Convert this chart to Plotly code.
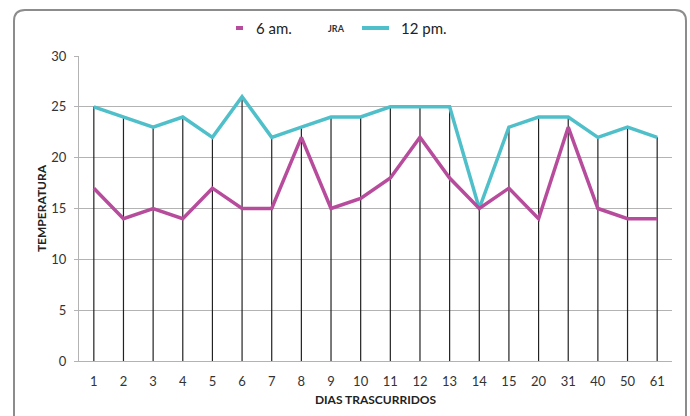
import plotly.graph_objects as go

dias = ["1", "2", "3", "4", "5", "6", "7", "8", "9", "10", "11", "12", "13",
        "14", "15", "20", "31", "40", "50", "61"]
am6 = [17, 14, 15, 14, 17, 15, 15, 22, 15, 16, 18, 22, 18, 15, 17, 14, 23, 15, 14, 14]
pm12 = [25, 24, 23, 24, 22, 26, 22, 23, 24, 24, 25, 25, 25, 15, 23, 24, 24, 22, 23, 22]
y_ticks = [0, 5, 10, 15, 20, 25, 30]

W, H = 690, 416
L, R, T, B = 79, 18, 56, 55
pw, ph = W - L - R, H - T - B

def px(x):
    return (x - L) / pw

def py(y):
    return (H - B - y) / ph

FONT = "Lato"

# drop lines from the 12 pm values down to zero
dx, dy = [], []
for d, v in zip(dias, pm12):
    dx += [d, d, None]
    dy += [0, v, None]

fig = go.Figure()
fig.add_trace(go.Scatter(x=dx, y=dy, mode="lines",
                         line=dict(color="#222222", width=1.2),
                         hoverinfo="skip", showlegend=False))
fig.add_trace(go.Scatter(x=dias, y=pm12, mode="lines", name="12 pm.",
                         line=dict(color="#4FBFC9", width=3.5), showlegend=False))
fig.add_trace(go.Scatter(x=dias, y=am6, mode="lines", name="6 am.",
                         line=dict(color="#B84C9C", width=3.5), showlegend=False))

# outer rounded frame
x0, x1, y0, y1 = 14, 686, 10, 425
r = 11
path = (f"M {px(x0)},{py(y1)} L {px(x0)},{py(y0 + r)} "
        f"Q {px(x0)},{py(y0)} {px(x0 + r)},{py(y0)} "
        f"L {px(x1 - r)},{py(y0)} Q {px(x1)},{py(y0)} {px(x1)},{py(y0 + r)} "
        f"L {px(x1)},{py(y1)}")
shapes = [dict(type="path", xref="paper", yref="paper", path=path,
               line=dict(color="#8c8c8c", width=2), layer="above")]

# legend-like marks
shapes.append(dict(type="line", xref="paper", yref="paper",
                   x0=px(236), x1=px(243), y0=py(28), y1=py(28),
                   line=dict(color="#B84C9C", width=4)))
shapes.append(dict(type="line", xref="paper", yref="paper",
                   x0=px(362), x1=px(389), y0=py(28), y1=py(28),
                   line=dict(color="#4FBFC9", width=4)))
annotations = [
    dict(text="6 am.", xref="paper", yref="paper", x=px(254), y=py(28),
         xanchor="left", yanchor="middle", showarrow=False,
         font=dict(family=FONT, size=15, color="#222222")),
    dict(text="<b>JRA</b>", xref="paper", yref="paper", x=px(326), y=py(28),
         xanchor="left", yanchor="middle", showarrow=False,
         font=dict(family=FONT, size=9, color="#333333")),
    dict(text="12 pm.", xref="paper", yref="paper", x=px(399), y=py(28),
         xanchor="left", yanchor="middle", showarrow=False,
         font=dict(family=FONT, size=15, color="#222222")),
]

fig.update_layout(
    width=W, height=H,
    margin=dict(l=L, r=R, t=T, b=B, pad=0),
    paper_bgcolor="white", plot_bgcolor="white",
    font=dict(family=FONT, color="#333333"),
    shapes=shapes, annotations=annotations,
    xaxis=dict(type="category", categoryorder="array", categoryarray=dias,
               range=[-0.5, len(dias) - 0.5],
               showgrid=False, showline=True, linecolor="#b3b3b3", linewidth=1,
               ticks="", ticklabelstandoff=8,
               tickfont=dict(family=FONT, size=13, color="#333333"),
               title=dict(text="<b>DIAS TRASCURRIDOS</b>", standoff=8,
                          font=dict(family=FONT, size=12, color="#222222"))),
    yaxis=dict(range=[0, 30], tickvals=y_ticks, showgrid=True,
               gridcolor="#b3b3b3", gridwidth=1, zeroline=False,
               showline=True, linecolor="#b3b3b3", linewidth=1,
               ticks="outside", ticklen=4, tickcolor="#b3b3b3",
               ticklabelstandoff=5,
               tickfont=dict(family=FONT, size=13, color="#333333"),
               title=dict(text="<b>TEMPERATURA</b>", standoff=2,
                          font=dict(family=FONT, size=12, color="#222222"))),
)

fig.write_html("out.html")
